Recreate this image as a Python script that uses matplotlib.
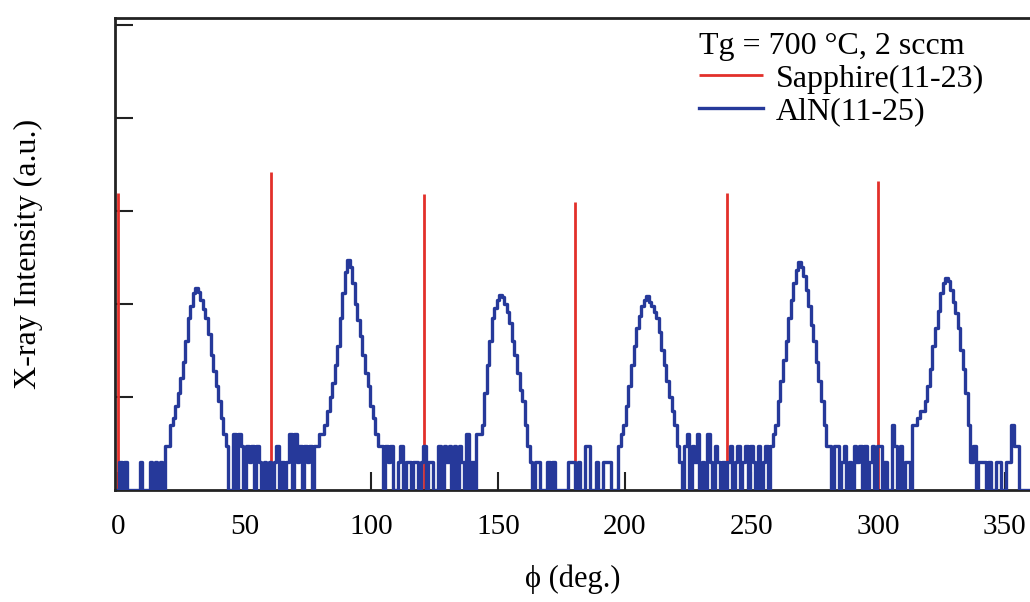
import matplotlib
matplotlib.use("Agg")
import matplotlib.pyplot as plt
import numpy as np
from matplotlib.ticker import FixedLocator, NullLocator, NullFormatter

# AlN(11-25) phi scan, one value per degree from 0 to 360 (counts)
aln_counts = [
    1, 2, 1, 2, 1, 1, 1, 1, 1, 2,
    1, 1, 1, 2, 1, 2, 1, 2, 1, 3,
    3, 5, 6, 8, 11, 16, 24, 40, 70, 95,
    130, 150, 135, 110, 88, 70, 48, 28, 19, 13,
    9, 6, 4, 3, 1, 1, 4, 1, 4, 3,
    1, 3, 2, 3, 1, 3, 2, 1, 2, 1,
    2, 1, 2, 3, 1, 2, 1, 2, 4, 1,
    4, 2, 3, 1, 3, 2, 3, 1, 3, 3,
    4, 4, 5, 7, 10, 14, 22, 35, 70, 130,
    220, 300, 250, 170, 100, 68, 45, 28, 18, 13,
    8, 6, 4, 3, 3, 1, 3, 2, 3, 1,
    1, 2, 3, 1, 2, 2, 1, 2, 2, 1,
    2, 3, 1, 2, 2, 1, 1, 3, 1, 3,
    2, 3, 1, 3, 1, 3, 2, 1, 4, 1,
    2, 1, 4, 4, 5, 11, 22, 40, 70, 90,
    110, 125, 118, 100, 82, 62, 40, 28, 18, 12,
    9, 5, 3, 2, 1, 2, 2, 1, 1, 1,
    2, 1, 2, 1, 1, 1, 1, 1, 2, 2,
    2, 1, 2, 1, 1, 3, 3, 1, 1, 2,
    1, 1, 2, 2, 2, 1, 1, 1, 3, 4,
    5, 8, 13, 22, 35, 55, 75, 95, 110, 122,
    105, 95, 82, 70, 50, 32, 22, 15, 10, 7,
    5, 3, 2, 1, 3, 4, 1, 3, 2, 4,
    1, 2, 1, 4, 2, 1, 3, 2, 1, 2,
    1, 2, 3, 1, 2, 3, 1, 2, 3, 1,
    3, 2, 1, 3, 1, 2, 3, 1, 3, 4,
    5, 9, 15, 25, 40, 70, 110, 170, 230, 280,
    250, 200, 140, 95, 60, 40, 24, 15, 9, 5,
    3, 3, 1, 3, 3, 1, 2, 3, 1, 2,
    1, 3, 2, 3, 1, 3, 1, 2, 3, 1,
    3, 3, 1, 2, 1, 1, 5, 3, 1, 3,
    1, 2, 2, 1, 5, 5, 6, 7, 7, 9,
    13, 20, 35, 55, 85, 130, 170, 190, 175, 140,
    105, 80, 55, 32, 20, 11, 5, 2, 3, 1,
    2, 2, 2, 1, 2, 1, 1, 2, 2, 1,
    1, 2, 2, 5, 3, 3, 1, 1, 1, 1,
    1,
]

# Sapphire(11-23) reflections
sapphire_phi = [0.0, 60.4, 120.8, 180.3, 240.3, 300.0]
sapphire_counts = [1550, 2630, 1510, 1250, 1550, 2100]

x_ticks = [0, 50, 100, 150, 200, 250, 300, 350]
y_ticks = [10, 100, 1000, 10000, 100000]

plt.rcParams['font.family'] = ['Liberation Serif', 'DejaVu Serif']

red = '#e2302a'
blue = '#26399a'

fig = plt.figure(figsize=(10.3, 6.02), dpi=100)
ax = fig.add_axes([115 / 1030, 1 - 490 / 602, 915 / 1030, 472 / 602])

phi = np.arange(len(aln_counts))

ax.vlines(sapphire_phi, 1, sapphire_counts, color=red, linewidth=2.0,
          label='Sapphire(11-23)', zorder=2)
ax.plot(phi, aln_counts, drawstyle='steps-mid', color=blue, linewidth=2.4,
        label='AlN(11-25)', zorder=3)

ax.set_yscale('log')
ax.set_xlim(-1.2, 360)
ax.set_ylim(1, 10 ** 5.075)
ax.set_xticks(x_ticks)
ax.yaxis.set_major_locator(FixedLocator(y_ticks))
ax.yaxis.set_minor_locator(NullLocator())
ax.yaxis.set_major_formatter(NullFormatter())

ax.tick_params(axis='both', direction='in', length=13, width=1.5, color='#222222')
ax.tick_params(axis='x', labelsize=21, pad=17)
ax.tick_params(axis='y', labelleft=False)

for side in ['left', 'bottom', 'top']:
    ax.spines[side].set_linewidth(2)
    ax.spines[side].set_color('#222222')
ax.spines['right'].set_visible(False)

ax.set_xlabel('ϕ (deg.)', fontsize=22, labelpad=18)
ax.set_ylabel('X-ray Intensity (a.u.)', fontsize=23, labelpad=52)

leg = ax.legend(title='Tg = 700 °C, 2 sccm', loc='upper left',
                bbox_to_anchor=(699 / 1030, 1 - 32 / 602),
                bbox_transform=fig.transFigure, frameon=False,
                fontsize=23, title_fontsize=23, alignment='left',
                borderpad=0, borderaxespad=0, handlelength=2.0,
                handletextpad=0.4, labelspacing=0.1)

fig.savefig('out.png', dpi=100)
plt.close(fig)
